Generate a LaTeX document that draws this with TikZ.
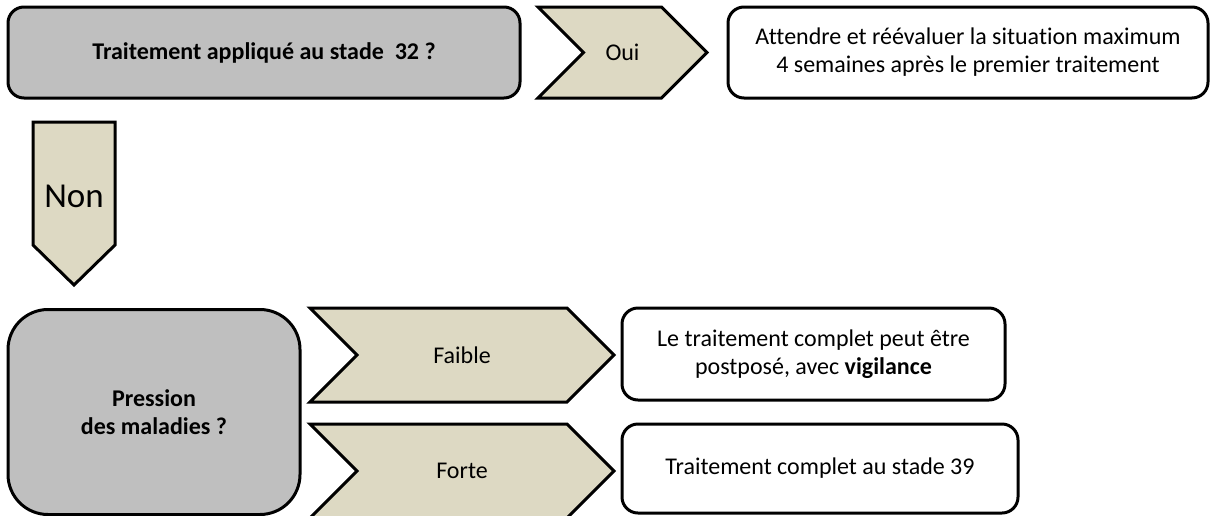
\documentclass[tikz,border=0pt]{standalone}
\usepackage{fontspec}
\setmainfont{Carlito}[Ligatures=NoCommon]
\usetikzlibrary{shapes.symbols}
\definecolor{askgray}{HTML}{BFBFBF}
\definecolor{chevtan}{HTML}{DDD9C3}

\begin{document}
\begin{tikzpicture}[x=1pt, y=-1pt,
  question/.style={draw, line width=3pt, fill=askgray, align=center, inner sep=0pt,
    font=\bfseries\fontsize{24}{28}\selectfont},
  answer/.style={draw, line width=3pt, fill=chevtan, signal, signal from=west, signal to=east,
    inner sep=0pt, font=\fontsize{24}{28}\selectfont},
  advice/.style={draw, line width=3pt, fill=white, rounded corners=16pt, align=center, inner sep=0pt,
    font=\fontsize{24}{28}\selectfont}]
\useasboundingbox (0,0) rectangle (1215,515);
\clip (0,0) rectangle (1215,515);

% First question and its answer
\node[question, rounded corners=16pt, minimum width=512pt, minimum height=91pt] (q32) at (264,52.5)
  {Traitement appliqu\'e au stade \ 32 ?};
\node[answer, minimum width=169pt, minimum height=91pt] (oui) at (622.5,52.5) {Oui};
\node[advice, minimum width=480pt, minimum height=91pt] (wait) at (968,52.5)
  {Attendre et r\'e\'evaluer la situation maximum\\4 semaines apr\`es le premier traitement};

% Down arrow to the second question
\draw[line width=3pt, fill=chevtan] (33,122) -- (115,122) -- (115,245) -- (74,285) -- (33,245) -- cycle;
\node[font=\fontsize{35}{40}\selectfont, inner sep=0pt] (non) at (74,196) {Non};

% Second question
\node[question, rounded corners=40pt, minimum width=292pt, minimum height=205pt] (pression) at (154,412)
  {Pression\\des maladies ?};

% Weak / strong pressure
\node[answer, minimum width=304pt, minimum height=94pt] (faible) at (462,355) {Faible};
\node[answer, minimum width=304pt, minimum height=94pt] (forte) at (462,471) {Forte};

\node[advice, minimum width=383pt, minimum height=92pt] (later) at (813.5,354)
  {Le traitement complet peut \^etre\\postpos\'e, avec \textbf{vigilance}};
\node[advice, minimum width=396pt, minimum height=89pt] (full) at (820,468.5)
  {Traitement complet au stade 39};

\end{tikzpicture}
\end{document}
